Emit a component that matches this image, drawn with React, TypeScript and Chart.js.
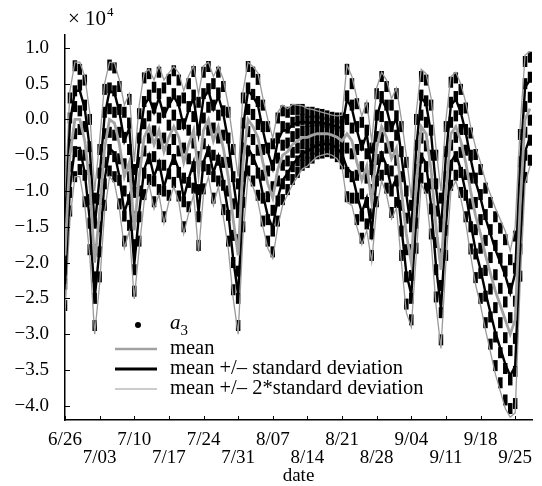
import { useEffect, useRef } from 'react';
import { Chart, registerables } from 'chart.js';

Chart.register(...registerables);

// x positions are day offsets from 6/26
const xTickDays = [0, 7, 14, 21, 28, 35, 42, 49, 56, 63, 70, 77, 84, 91];
const xTickLabels = ['6/26', '7/03', '7/10', '7/17', '7/24', '7/31', '8/07', '8/14', '8/21', '8/28', '9/04', '9/11', '9/18', '9/25'];
const yTicks = [-4.0, -3.5, -3.0, -2.5, -2.0, -1.5, -1.0, -0.5, 0.0, 0.5, 1.0];

// values in units of 10^4
const meanVals = [
  -1.9, -0.5, 0.0, 0.0, -0.3, -0.9, -2.0, -1.3, -0.4, 0.0,
  -0.05, -0.35, -0.8, -0.6, -1.55, -0.8, -0.25, -0.1, -0.35, -0.15,
  -0.45, -0.25, -0.1, -0.25, -0.6, -0.35, -0.15, -0.75, -0.15, 0.0,
  -0.3, -0.1, -0.4, -0.8, -1.4, -1.9, -0.6, 0.0, -0.1, -0.25,
  -0.6, -0.9, -1.1, -0.7, -0.5, -0.45, -0.35, -0.3, -0.25, -0.25,
  -0.22, -0.2, -0.2, -0.2, -0.22, -0.25, -0.3, -0.2, -0.3, -0.6,
  -0.85, -0.65, -1.15, -0.4, -0.1, -0.25, -0.55, -0.4, -1.0, -1.6,
  -2.0, -0.9, -0.1, -0.2, -0.7, -1.5, -2.1, -1.0, -0.2, -0.1,
  -0.3, -0.6, -1.0, -1.35, -1.6, -1.9, -2.15, -2.4, -2.6, -2.8,
  -3.0, -2.8, -1.2, 0.0, 0.15,
];

const stdVals = [
  0.40, 0.45, 0.40, 0.40, 0.45, 0.50, 0.50, 0.50, 0.45, 0.40,
  0.42, 0.45, 0.50, 0.48, 0.48, 0.50, 0.45, 0.40, 0.45, 0.45,
  0.50, 0.45, 0.42, 0.45, 0.50, 0.48, 0.45, 0.55, 0.45, 0.40,
  0.45, 0.42, 0.48, 0.50, 0.55, 0.55, 0.50, 0.40, 0.42, 0.45,
  0.45, 0.45, 0.42, 0.40, 0.35, 0.30, 0.28, 0.25, 0.22, 0.20,
  0.18, 0.16, 0.15, 0.14, 0.14, 0.15, 0.18, 0.48, 0.45, 0.45,
  0.45, 0.45, 0.42, 0.42, 0.38, 0.40, 0.42, 0.42, 0.50, 0.55,
  0.45, 0.50, 0.40, 0.42, 0.50, 0.55, 0.55, 0.50, 0.40, 0.38,
  0.40, 0.42, 0.45, 0.48, 0.50, 0.52, 0.55, 0.58, 0.60, 0.62,
  0.58, 0.65, 0.55, 0.45, 0.40,
];

// a3 observations, one row per day
const a3Vals = [
  [-1.15, -1.5, -1.7, -2.1, -2.3, -2.6],
  [0.3, 0.02, -0.35, -0.66, -1.02, -1.28],
  [0.75, 0.4, 0.18, -0.2, -0.45, -0.8],
  [0.7, 0.48, 0.12, -0.14, -0.5, -0.7],
  [0.55, 0.2, -0.1, -0.5, -0.78, -1.15],
  [0.0, -0.38, -0.7, -1.12, -1.45, -1.82],
  [-1.1, -1.45, -1.82, -2.2, -2.5, -2.88],
  [-0.42, -0.75, -1.12, -1.5, -1.85, -2.2],
  [0.42, 0.1, -0.2, -0.6, -0.9, -1.2],
  [0.76, 0.44, 0.15, -0.18, -0.42, -0.72],
  [0.72, 0.4, 0.1, -0.22, -0.52, -0.8],
  [0.46, 0.14, -0.18, -0.55, -0.85, -1.18],
  [0.1, -0.25, -0.62, -1.0, -1.35, -1.7],
  [0.28, -0.05, -0.42, -0.8, -1.12, -1.48],
  [-0.7, -1.02, -1.36, -1.75, -2.1, -2.4],
  [0.08, -0.26, -0.6, -1.0, -1.36, -1.7],
  [0.58, 0.25, -0.06, -0.44, -0.75, -1.05],
  [0.64, 0.34, 0.05, -0.26, -0.55, -0.84],
  [0.45, 0.16, -0.16, -0.52, -0.86, -1.15],
  [0.66, 0.36, 0.02, -0.34, -0.64, -0.98],
  [0.44, 0.1, -0.26, -0.64, -1.0, -1.36],
  [0.56, 0.24, -0.08, -0.42, -0.76, -1.06],
  [0.68, 0.36, 0.06, -0.28, -0.56, -0.88],
  [0.55, 0.26, -0.07, -0.44, -0.74, -1.07],
  [0.3, -0.06, -0.4, -0.82, -1.15, -1.5],
  [0.5, 0.18, -0.15, -0.55, -0.88, -1.22],
  [0.67, 0.34, 0.04, -0.33, -0.66, -0.96],
  [0.24, -0.15, -0.52, -0.98, -1.36, -1.76],
  [0.66, 0.36, 0.02, -0.34, -0.65, -0.97],
  [0.74, 0.43, 0.17, -0.15, -0.45, -0.7],
  [0.5, 0.2, -0.12, -0.5, -0.8, -1.1],
  [0.66, 0.37, 0.06, -0.26, -0.57, -0.86],
  [0.46, 0.12, -0.22, -0.6, -0.92, -1.26],
  [0.1, -0.26, -0.6, -1.0, -1.34, -1.7],
  [-0.42, -0.8, -1.18, -1.62, -2.0, -2.38],
  [-0.9, -1.3, -1.68, -2.12, -2.5, -2.88],
  [0.3, -0.05, -0.4, -0.8, -1.16, -1.5],
  [0.74, 0.44, 0.14, -0.17, -0.44, -0.72],
  [0.66, 0.35, 0.07, -0.28, -0.56, -0.86],
  [0.56, 0.25, -0.07, -0.43, -0.75, -1.06],
  [0.2, -0.1, -0.42, -0.78, -1.1, -1.42],
  [-0.1, -0.4, -0.72, -1.08, -1.4, -1.7],
  [-0.34, -0.64, -0.94, -1.27, -1.56, -1.85],
  [0.02, -0.26, -0.54, -0.86, -1.14, -1.42],
  [0.12, -0.1, -0.36, -0.64, -0.9, -1.12],
  [0.1, -0.12, -0.33, -0.58, -0.78, -0.98],
  [0.14, -0.04, -0.24, -0.46, -0.66, -0.84],
  [0.14, -0.02, -0.2, -0.4, -0.58, -0.74],
  [0.14, 0.0, -0.16, -0.34, -0.5, -0.64],
  [0.1, -0.03, -0.17, -0.33, -0.47, -0.6],
  [0.1, -0.02, -0.15, -0.3, -0.42, -0.54],
  [0.08, -0.02, -0.14, -0.26, -0.38, -0.48],
  [0.07, -0.04, -0.14, -0.26, -0.36, -0.47],
  [0.05, -0.05, -0.14, -0.26, -0.35, -0.45],
  [0.03, -0.07, -0.16, -0.28, -0.37, -0.47],
  [0.02, -0.08, -0.19, -0.31, -0.42, -0.52],
  [0.02, -0.1, -0.23, -0.37, -0.5, -0.62],
  [0.7, 0.33, 0.0, -0.4, -0.74, -1.08],
  [0.5, 0.2, -0.12, -0.48, -0.8, -1.1],
  [0.22, -0.1, -0.42, -0.78, -1.1, -1.4],
  [-0.04, -0.36, -0.66, -1.04, -1.35, -1.66],
  [0.16, -0.15, -0.48, -0.82, -1.16, -1.46],
  [-0.4, -0.7, -0.98, -1.32, -1.6, -1.9],
  [0.36, 0.06, -0.24, -0.56, -0.86, -1.15],
  [0.6, 0.32, 0.04, -0.25, -0.52, -0.78],
  [0.46, 0.2, -0.1, -0.4, -0.7, -0.96],
  [0.2, -0.1, -0.38, -0.72, -1.0, -1.3],
  [0.36, 0.05, -0.22, -0.57, -0.86, -1.16],
  [-0.1, -0.45, -0.8, -1.2, -1.56, -1.9],
  [-0.6, -1.0, -1.38, -1.82, -2.2, -2.58],
  [-1.2, -1.5, -1.82, -2.18, -2.5, -2.8],
  [0.0, -0.36, -0.7, -1.1, -1.45, -1.8],
  [0.6, 0.34, 0.06, -0.26, -0.54, -0.82],
  [0.55, 0.26, -0.04, -0.37, -0.66, -0.96],
  [0.2, -0.15, -0.5, -0.9, -1.25, -1.6],
  [-0.5, -0.9, -1.28, -1.72, -2.1, -2.48],
  [-1.1, -1.5, -1.88, -2.32, -2.7, -3.08],
  [-0.1, -0.45, -0.8, -1.2, -1.55, -1.9],
  [0.52, 0.24, -0.04, -0.36, -0.64, -0.92],
  [0.58, 0.32, 0.05, -0.25, -0.52, -0.78],
  [0.42, 0.14, -0.14, -0.46, -0.74, -1.02],
  [0.16, -0.14, -0.43, -0.77, -1.06, -1.36],
  [-0.19, -0.5, -0.82, -1.18, -1.5, -1.81],
  [-0.49, -0.82, -1.16, -1.54, -1.88, -2.21],
  [-0.7, -1.05, -1.4, -1.8, -2.15, -2.5],
  [-0.96, -1.33, -1.69, -2.11, -2.47, -2.84],
  [-1.16, -1.54, -1.93, -2.37, -2.76, -3.14],
  [-1.36, -1.76, -2.17, -2.63, -3.04, -3.44],
  [-1.52, -1.94, -2.36, -2.84, -3.26, -3.68],
  [-1.68, -2.12, -2.55, -3.05, -3.48, -3.92],
  [-1.96, -2.36, -2.77, -3.23, -3.64, -4.04],
  [-1.63, -2.08, -2.54, -3.06, -3.52, -3.97],
  [-0.21, -0.59, -0.98, -1.42, -1.81, -2.19],
  [0.81, 0.5, 0.18, -0.18, -0.5, -0.81],
  [0.87, 0.59, 0.31, -0.01, -0.29, -0.57],
];

const FONT = '"Liberation Serif", "Times New Roman", serif';
const GRAY = '#a2a2a2';
const GRAY_THIN = '#9a9a9a';

const overlayPlugin = {
  id: 'overlay',
  afterDraw(chart: any) {
    const { ctx, chartArea, scales } = chart;
    const x = scales.x;
    const y = scales.y;
    ctx.save();
    // inward tick marks
    ctx.strokeStyle = '#000';
    ctx.lineWidth = 1;
    ctx.beginPath();
    xTickDays.forEach((d) => {
      const px = Math.round(x.getPixelForValue(d)) + 0.5;
      ctx.moveTo(px, chartArea.bottom);
      ctx.lineTo(px, chartArea.bottom - 4);
    });
    yTicks.forEach((v) => {
      const py = Math.round(y.getPixelForValue(v)) + 0.5;
      ctx.moveTo(chartArea.left, py);
      ctx.lineTo(chartArea.left + 5, py);
    });
    ctx.stroke();

    // axis multiplier
    ctx.fillStyle = '#000';
    ctx.textBaseline = 'alphabetic';
    ctx.textAlign = 'left';
    ctx.font = `21px ${FONT}`;
    const base = '× 10';
    ctx.fillText(base, chartArea.left + 3, 25);
    const w = ctx.measureText(base).width;
    ctx.font = `13px ${FONT}`;
    ctx.fillText('4', chartArea.left + 3 + w + 1, 16);

    // legend
    const lx0 = chartArea.left + 50;
    const lx1 = chartArea.left + 92;
    const tx = chartArea.left + 105;
    ctx.textBaseline = 'middle';
    // a3
    ctx.beginPath();
    ctx.arc(chartArea.left + 73, 325, 3, 0, Math.PI * 2);
    ctx.fill();
    ctx.font = `italic 21px ${FONT}`;
    ctx.fillText('a', tx, 323);
    const aw = ctx.measureText('a').width;
    ctx.font = `15px ${FONT}`;
    ctx.fillText('3', tx + aw, 331);

    const rows = [
      { yy: 349, color: GRAY, width: 2.5, text: 'mean' },
      { yy: 369, color: '#000', width: 3, text: 'mean +/– standard deviation' },
      { yy: 389, color: GRAY_THIN, width: 1.2, text: 'mean +/– 2*standard deviation' },
    ];
    rows.forEach((r) => {
      ctx.strokeStyle = r.color;
      ctx.lineWidth = r.width;
      ctx.beginPath();
      ctx.moveTo(lx0, r.yy);
      ctx.lineTo(lx1, r.yy);
      ctx.stroke();
      ctx.fillStyle = '#000';
      ctx.font = `20.5px ${FONT}`;
      ctx.fillText(r.text, tx, r.yy);
    });
    ctx.restore();
  },
};

export default function App() {
  const ref = useRef<HTMLCanvasElement | null>(null);

  useEffect(() => {
    if (!ref.current) return;
    const pts = (arr: number[]) => arr.map((v, i) => ({ x: i, y: v }));
    const meanPts = pts(meanVals);
    const up1 = meanVals.map((m, i) => ({ x: i, y: m + stdVals[i] }));
    const lo1 = meanVals.map((m, i) => ({ x: i, y: m - stdVals[i] }));
    const up2 = meanVals.map((m, i) => ({ x: i, y: m + 2 * stdVals[i] }));
    const lo2 = meanVals.map((m, i) => ({ x: i, y: m - 2 * stdVals[i] }));
    const a3Pts = a3Vals.flatMap((row, i) => row.map((v) => ({ x: i, y: v })));

    const lineDs = (label: string, data: any[], color: string, width: number, order: number) => ({
      type: 'line' as const,
      label,
      data,
      borderColor: color,
      backgroundColor: color,
      borderWidth: width,
      pointRadius: 0,
      tension: 0,
      fill: false,
      order,
    });

    const chart = new Chart(ref.current, {
      type: 'line',
      data: {
        datasets: [
          lineDs('mean', meanPts, GRAY, 2.8, 1),
          lineDs('mean + std', up1, '#000', 2.4, 2),
          lineDs('mean - std', lo1, '#000', 2.4, 2),
          lineDs('mean + 2std', up2, GRAY_THIN, 1.3, 3),
          lineDs('mean - 2std', lo2, GRAY_THIN, 1.3, 3),
          {
            type: 'scatter' as const,
            label: 'a3',
            data: a3Pts,
            showLine: false,
            pointStyle: 'line',
            rotation: 90,
            pointRadius: 5.5,
            pointBorderWidth: 4.5,
            borderColor: '#000',
            backgroundColor: '#000',
            order: 10,
          } as any,
        ],
      },
      options: {
        animation: false,
        responsive: false,
        devicePixelRatio: 1,
        layout: { padding: { top: 35, right: 0, left: 0, bottom: 0 } },
        plugins: { legend: { display: false }, tooltip: { enabled: false } },
        scales: {
          x: {
            type: 'linear',
            min: 0,
            max: 94.4,
            grid: { display: false },
            border: { display: true, color: '#000', width: 1.5 },
            afterBuildTicks: (scale: any) => {
              scale.ticks = xTickDays.map((d) => ({ value: d }));
            },
            afterFit: (scale: any) => {
              scale.height = 66;
              scale.paddingLeft = 0;
              scale.paddingRight = 0;
            },
            ticks: {
              autoSkip: false,
              maxRotation: 0,
              minRotation: 0,
              padding: 3,
              color: '#000',
              font: { family: FONT, size: 19, lineHeight: 0.95 },
              callback: (value: any) => {
                const idx = xTickDays.indexOf(Number(value));
                const lab = idx >= 0 ? xTickLabels[idx] : '';
                return idx % 2 === 0 ? [lab, ''] : ['', lab];
              },
            },
            title: {
              display: true,
              text: 'date',
              color: '#000',
              font: { family: FONT, size: 19, lineHeight: 1.1 },
              padding: { top: 0, bottom: 0 },
            },
          },
          y: {
            type: 'linear',
            min: -4.2,
            max: 1.18,
            grid: { display: false },
            border: { display: true, color: '#000', width: 1.5 },
            afterBuildTicks: (scale: any) => {
              scale.ticks = yTicks.map((v) => ({ value: v }));
            },
            afterFit: (scale: any) => {
              scale.width = 65;
              scale.paddingTop = 0;
              scale.paddingBottom = 0;
            },
            ticks: {
              padding: 8,
              color: '#000',
              font: { family: FONT, size: 19 },
              callback: (value: any) => {
                const v = Number(value);
                return (v < 0 ? '−' : '') + Math.abs(v).toFixed(1);
              },
            },
          },
        },
      },
      plugins: [overlayPlugin],
    });
    return () => chart.destroy();
  }, []);

  return (
    <div style={{ position: 'fixed', left: 0, top: 0, width: 542, height: 486, background: '#fff' }}>
      <canvas ref={ref} width={542} height={486} style={{ width: 542, height: 486, display: 'block' }} />
    </div>
  );
}
